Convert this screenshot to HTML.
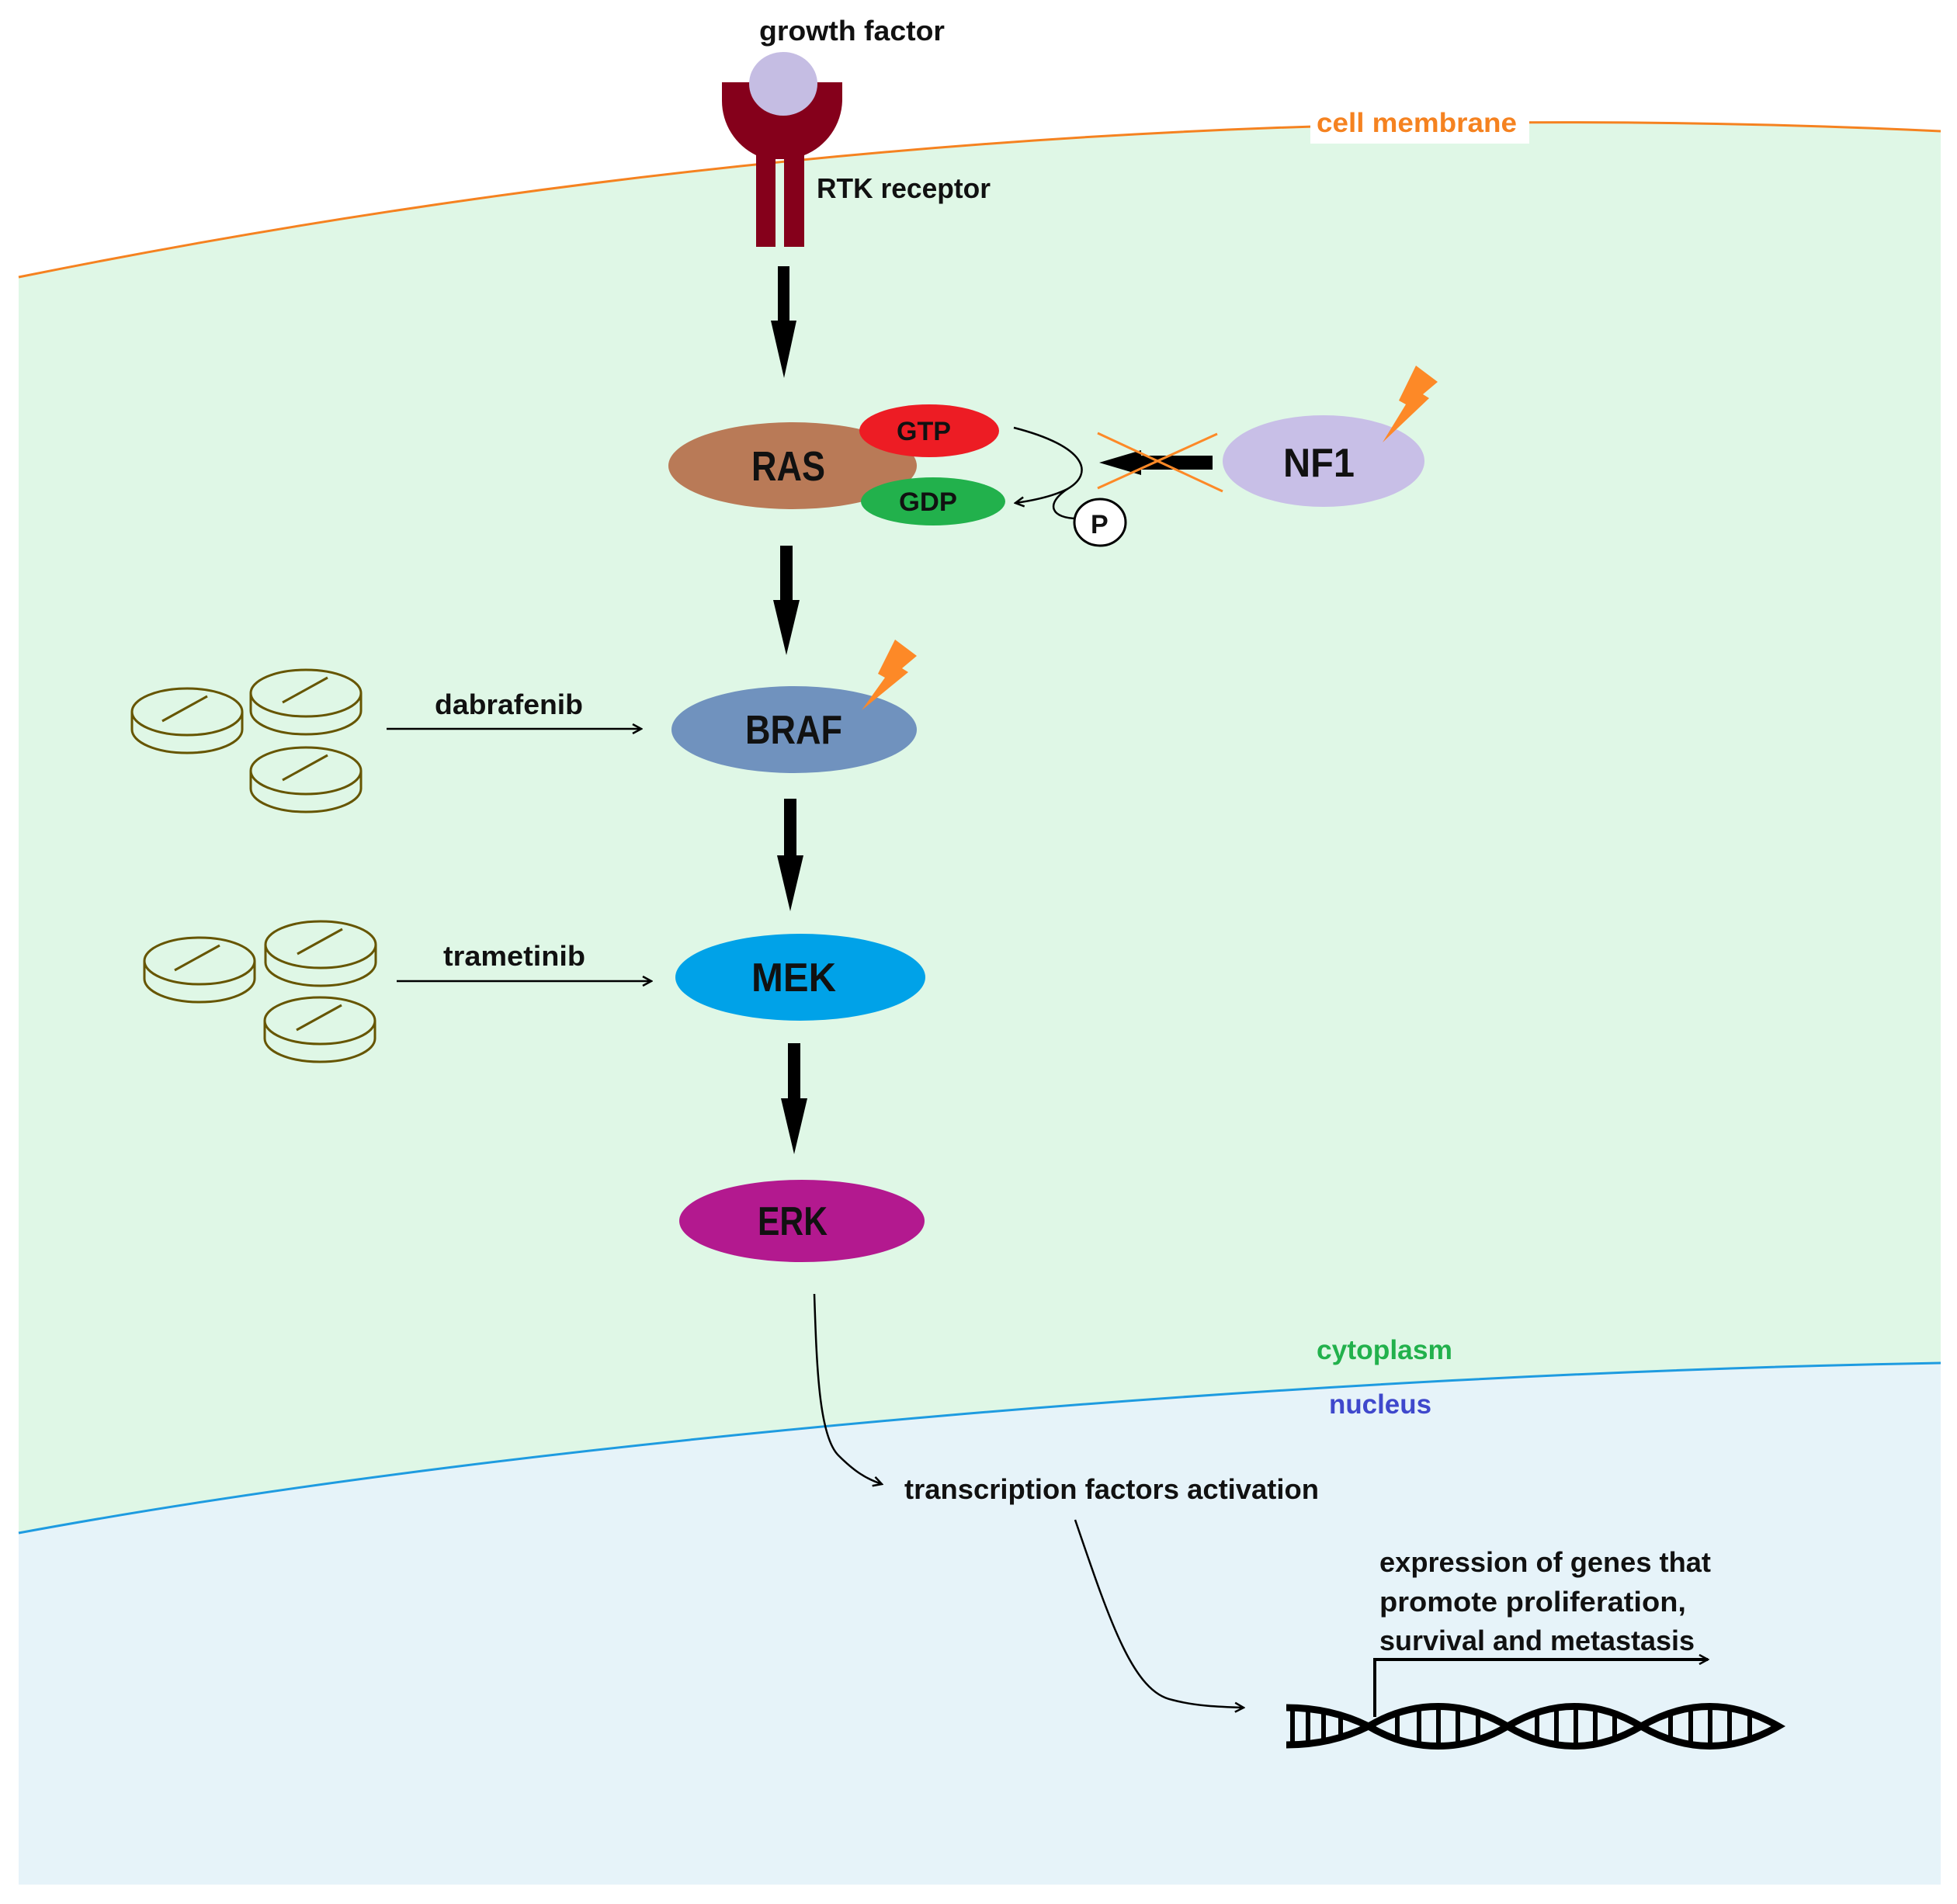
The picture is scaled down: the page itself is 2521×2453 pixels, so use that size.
<!DOCTYPE html>
<html><head><meta charset="utf-8"><style>
html,body{margin:0;padding:0;background:#fff;}
svg{display:block;}
text{font-family:"Liberation Sans",sans-serif;font-weight:bold;}
</style></head><body>
<svg width="2521" height="2453" viewBox="0 0 2521 2453" xmlns="http://www.w3.org/2000/svg">
<defs>
<clipPath id="cell"><rect x="24" y="0" width="2476" height="2428"/></clipPath>
<marker id="ah" markerWidth="14" markerHeight="14" refX="12" refY="7" orient="auto" markerUnits="userSpaceOnUse"><path d="M1,1 L12,7 L1,13" fill="none" stroke="#000" stroke-width="2.5"/></marker>
</defs>
<rect width="2521" height="2453" fill="#fff"/>
<g clip-path="url(#cell)">
<path d="M24,357 Q1250,110 2500,169 L2500,2428 L24,2428 Z" fill="#dff7e6"/>
<path d="M24,1975 C700,1850 1700,1770 2500,1756 L2500,2428 L24,2428 Z" fill="#e6f3f9"/>
</g>
<path d="M24,357 Q1250,110 2500,169" fill="none" stroke="#f58220" stroke-width="3"/>
<path d="M24,1975 C700,1850 1700,1770 2500,1756" fill="none" stroke="#1e9be0" stroke-width="3"/>

<!-- cell membrane label -->
<rect x="1688" y="137" width="282" height="48" fill="#fff"/>
<text x="1696" y="170" font-size="35" fill="#f58220" textLength="258" lengthAdjust="spacingAndGlyphs">cell membrane</text>

<!-- receptor -->
<path d="M930,106 L1085,106 L1085,130 A78,78 0 0 1 1036,200 L1036,318 L1010,318 L1010,205 L999,205 L999,318 L974,318 L974,200 A78,78 0 0 1 930,130 Z" fill="#85001b"/>
<ellipse cx="1009" cy="108" rx="44" ry="41" fill="#c5bde3"/>
<text x="978" y="52" font-size="36" fill="#111" textLength="239" lengthAdjust="spacingAndGlyphs">growth factor</text>
<text x="1052" y="255" font-size="36" fill="#111" textLength="224" lengthAdjust="spacingAndGlyphs">RTK receptor</text>

<!-- thick arrows -->
<g fill="#000">
<path d="M1002,343 L1017,343 L1017,413 L1026,413 L1010,487 L993,413 L1002,413 Z"/>
<path d="M1005,703 L1021,703 L1021,773 L1030,773 L1013,844 L996,773 L1005,773 Z"/>
<path d="M1010,1029 L1026,1029 L1026,1102 L1035,1102 L1018,1174 L1001,1102 L1010,1102 Z"/>
<path d="M1015,1344 L1031,1344 L1031,1415 L1040,1415 L1023,1487 L1006,1415 L1015,1415 Z"/>
</g>

<!-- RAS -->
<ellipse cx="1021" cy="600" rx="160" ry="56" fill="#b97a57"/>
<ellipse cx="1197" cy="555" rx="90" ry="34" fill="#ed1c24"/>
<ellipse cx="1202" cy="646" rx="93" ry="31" fill="#22b14c"/>
<text x="968" y="619" font-size="54" fill="#111" textLength="95" lengthAdjust="spacingAndGlyphs">RAS</text>
<text x="1155" y="567" font-size="34" fill="#111" textLength="70" lengthAdjust="spacingAndGlyphs">GTP</text>
<text x="1158" y="658" font-size="34" fill="#111" textLength="75" lengthAdjust="spacingAndGlyphs">GDP</text>
<path d="M1306,551 C1400,575 1410,610 1375,630 C1345,650 1355,668 1388,668" fill="none" stroke="#000" stroke-width="2.5"/>
<path d="M1375,630 C1355,640 1330,645 1308,648" fill="none" stroke="#000" stroke-width="2.5" marker-end="url(#ah)"/>
<ellipse cx="1417" cy="673" rx="33" ry="30" fill="#fff" stroke="#000" stroke-width="3"/>
<text x="1405" y="687" font-size="34" fill="#111">P</text>

<!-- NF1 -->
<ellipse cx="1705" cy="594" rx="130" ry="59" fill="#c8bfe7"/>
<text x="1653" y="614" font-size="52" fill="#111" textLength="92" lengthAdjust="spacingAndGlyphs">NF1</text>
<path d="M1562,587 L1470,587 L1470,580 L1416,596 L1470,612 L1470,605 L1562,605 Z" fill="#000"/>
<line x1="1414" y1="558" x2="1575" y2="633" stroke="#fd8927" stroke-width="3"/>
<line x1="1414" y1="629" x2="1568" y2="559" stroke="#fd8927" stroke-width="3"/>
<polygon points="1824,471 1852,492 1833,508 1841,513 1781,570 1811,521 1802,516" fill="#fd8927"/>

<!-- BRAF -->
<ellipse cx="1023" cy="940" rx="158" ry="56" fill="#7092be"/>
<text x="960" y="958" font-size="52" fill="#111" textLength="125" lengthAdjust="spacingAndGlyphs">BRAF</text>
<polygon points="1153,824 1181,845 1162,861 1170,866 1110,915 1140,873 1131,868" fill="#fd8927"/>

<!-- MEK -->
<ellipse cx="1031" cy="1259" rx="161" ry="56" fill="#00a2e8"/>
<text x="968" y="1277" font-size="52" fill="#111" textLength="109" lengthAdjust="spacingAndGlyphs">MEK</text>

<!-- ERK -->
<ellipse cx="1033" cy="1573" rx="158" ry="53" fill="#b3198f"/>
<text x="976" y="1591" font-size="52" fill="#111" textLength="90" lengthAdjust="spacingAndGlyphs">ERK</text>

<!-- pills -->
<g fill="none" stroke="#665500" stroke-width="3">
<g transform="translate(241,917)"><path d="M-71,0 L-71,23 A71,30 0 0 0 71,23 L71,0"/><ellipse rx="71" ry="30"/><line x1="-32" y1="12" x2="26" y2="-20"/></g>
<g transform="translate(394,893)"><path d="M-71,0 L-71,23 A71,30 0 0 0 71,23 L71,0"/><ellipse rx="71" ry="30"/><line x1="-30" y1="12" x2="28" y2="-20"/></g>
<g transform="translate(394,993)"><path d="M-71,0 L-71,23 A71,30 0 0 0 71,23 L71,0"/><ellipse rx="71" ry="30"/><line x1="-30" y1="12" x2="28" y2="-20"/></g>
<g transform="translate(257,1238)"><path d="M-71,0 L-71,23 A71,30 0 0 0 71,23 L71,0"/><ellipse rx="71" ry="30"/><line x1="-32" y1="12" x2="26" y2="-20"/></g>
<g transform="translate(413,1217)"><path d="M-71,0 L-71,23 A71,30 0 0 0 71,23 L71,0"/><ellipse rx="71" ry="30"/><line x1="-30" y1="12" x2="28" y2="-20"/></g>
<g transform="translate(412,1315)"><path d="M-71,0 L-71,23 A71,30 0 0 0 71,23 L71,0"/><ellipse rx="71" ry="30"/><line x1="-30" y1="12" x2="28" y2="-20"/></g>
</g>

<line x1="498" y1="939" x2="826" y2="939" stroke="#000" stroke-width="2.5" marker-end="url(#ah)"/>
<text x="560" y="920" font-size="36" fill="#111" textLength="191" lengthAdjust="spacingAndGlyphs">dabrafenib</text>
<line x1="511" y1="1264" x2="839" y2="1264" stroke="#000" stroke-width="2.5" marker-end="url(#ah)"/>
<text x="571" y="1244" font-size="36" fill="#111" textLength="183" lengthAdjust="spacingAndGlyphs">trametinib</text>

<!-- compartment labels -->
<text x="1696" y="1751" font-size="35" fill="#22b14c" textLength="175" lengthAdjust="spacingAndGlyphs">cytoplasm</text>
<text x="1712" y="1821" font-size="35" fill="#3f48cc" textLength="132" lengthAdjust="spacingAndGlyphs">nucleus</text>

<!-- ERK to TF -->
<path d="M1049,1667 C1052,1760 1055,1850 1080,1875 C1100,1895 1115,1905 1136,1912" fill="none" stroke="#000" stroke-width="2.5" marker-end="url(#ah)"/>
<text x="1165" y="1931" font-size="36" fill="#111" textLength="534" lengthAdjust="spacingAndGlyphs">transcription factors activation</text>
<path d="M1385,1958 C1430,2090 1460,2180 1510,2190 C1540,2198 1570,2199 1602,2200" fill="none" stroke="#000" stroke-width="2.5" marker-end="url(#ah)"/>

<!-- gene text -->
<text font-size="36" fill="#111">
<tspan x="1777" y="2025" textLength="427" lengthAdjust="spacingAndGlyphs">expression of genes that</tspan>
<tspan x="1777" y="2076" textLength="395" lengthAdjust="spacingAndGlyphs">promote proliferation,</tspan>
<tspan x="1777" y="2126" textLength="406" lengthAdjust="spacingAndGlyphs">survival and metastasis</tspan>
</text>
<path d="M1771,2212 L1771,2138 L2200,2138" fill="none" stroke="#000" stroke-width="4" marker-end="url(#ah)"/>

<!-- DNA -->
<g fill="none" stroke="#000" stroke-width="9">
<path d="M1657,2200 C1700,2200 1735,2210 1763,2224 C1735,2238 1700,2248 1657,2248"/>
<path d="M1763,2224 C1820,2190 1885,2190 1942,2224 C1885,2258 1820,2258 1763,2224 Z"/>
<path d="M1942,2224 C1999,2190 2057,2190 2114,2224 C2057,2258 1999,2258 1942,2224 Z"/>
<path d="M2114,2224 C2173,2190 2232,2190 2291,2224 C2232,2258 2173,2258 2114,2224 Z"/>
</g>
<g stroke="#000" stroke-width="6">
<line x1="1665" y1="2200" x2="1665" y2="2248"/><line x1="1685" y1="2201" x2="1685" y2="2247"/><line x1="1705" y1="2203" x2="1705" y2="2245"/><line x1="1727" y1="2206" x2="1727" y2="2242"/>
<line x1="1800" y1="2207" x2="1800" y2="2241"/><line x1="1828" y1="2201" x2="1828" y2="2247"/><line x1="1853" y1="2199" x2="1853" y2="2249"/><line x1="1878" y1="2201" x2="1878" y2="2247"/><line x1="1904" y1="2207" x2="1904" y2="2241"/>
<line x1="1980" y1="2207" x2="1980" y2="2241"/><line x1="2005" y1="2201" x2="2005" y2="2247"/><line x1="2030" y1="2199" x2="2030" y2="2249"/><line x1="2055" y1="2201" x2="2055" y2="2247"/><line x1="2080" y1="2207" x2="2080" y2="2241"/>
<line x1="2152" y1="2207" x2="2152" y2="2241"/><line x1="2178" y1="2201" x2="2178" y2="2247"/><line x1="2203" y1="2199" x2="2203" y2="2249"/><line x1="2228" y1="2201" x2="2228" y2="2247"/><line x1="2254" y1="2207" x2="2254" y2="2241"/>
</g>
</svg>
</body></html>
